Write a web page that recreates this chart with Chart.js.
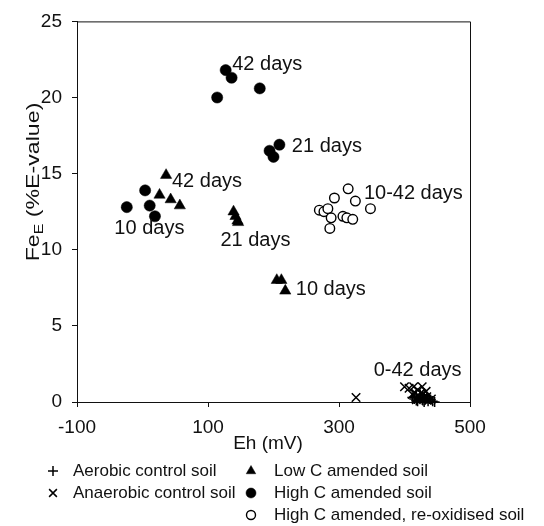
<!DOCTYPE html>
<html>
<head>
<meta charset="utf-8">
<title>FeE vs Eh</title>
<script src="https://cdn.jsdelivr.net/npm/chart.js@4/dist/chart.umd.min.js"></script>
<style>
  html, body { margin: 0; padding: 0; background: #fff; }
  #wrap { width: 544px; height: 526px; }
</style>
</head>
<body>
<div id="wrap"><canvas id="feChart" width="544" height="526"></canvas></div>
<script>
// Eh (mV) and FeE (%E-value) for each soil treatment
const aerobicEh = [412, 415, 418, 420, 422, 424, 425, 427, 428, 430, 432, 434, 436, 438, 440, 443, 446, 418, 430];
const aerobicFe = [0.3, 0.2, 0.4, 0.05, 0.25, 0.5, 0.3, 0.15, 0.1, 0.45, 0.2, 0.35, 0.05, 0.2, 0.15, 0.05, 0.0, 0.1, 0.0];

const anaerobicEh = [326, 400, 407, 414, 420, 427, 433, 412, 422, 430, 418, 437, 425, 416, 428, 434, 441];
const anaerobicFe = [0.3, 1.0, 0.9, 1.0, 0.8, 1.0, 0.7, 0.5, 0.4, 0.3, 0.15, 0.1, 0.6, 0.6, 0.5, 0.35, 0.2];

const lowCEh = [36, 26, 43, 57, 139, 142, 145, 146, 205, 212, 218];
const lowCFe = [14.9, 13.6, 13.3, 12.9, 12.5, 12.2, 11.9, 11.8, 8.0, 8.0, 7.3];

const highCEh = [127, 136, 114, 179, 194, 200, 209, -24, 4, 11, 19];
const highCFe = [21.8, 21.3, 20.0, 20.6, 16.5, 16.1, 16.9, 12.8, 13.9, 12.9, 12.2];

const reoxEh = [314, 293, 325, 348, 270, 277, 283, 288, 306, 312, 321, 286];
const reoxFe = [14.0, 13.4, 13.2, 12.7, 12.6, 12.5, 12.7, 12.1, 12.2, 12.1, 12.0, 11.4];

const xTicks = [-100, 100, 300, 500];
const yTicks = [0, 5, 10, 15, 20, 25];

const legendNames = [
    'Aerobic control soil',
    'Anaerobic control soil',
    'Low C amended soil',
    'High C amended soil',
    'High C amended, re-oxidised soil'
];

// sampling-time labels, anchored by their left edge in data units
const noteText = ['42 days', '21 days', '42 days', '10 days', '21 days', '10 days', '10-42 days', '0-42 days'];
const noteEh = [137, 228, 45, -43, 119, 234, 338, 353];
const noteFe = [22.2, 16.8, 14.5, 11.4, 10.6, 7.4, 13.7, 2.1];

const FONT = '"Liberation Sans", Arial, sans-serif';
const INK = '#111';

function pts(xs, ys) {
    return xs.map((x, i) => ({ x: x, y: ys[i] }));
}

// box around the plot, axis titles, labels and legend
const extras = {
    id: 'extras',
    beforeDatasetsDraw(chart) {
        const ctx = chart.ctx;
        const a = chart.chartArea;
        ctx.save();
        ctx.strokeStyle = INK;
        ctx.lineWidth = 1;
        ctx.beginPath();
        ctx.moveTo(a.left, a.top + 0.5);
        ctx.lineTo(a.right + 0.5, a.top + 0.5);
        ctx.lineTo(a.right + 0.5, a.bottom);
        ctx.stroke();
        ctx.restore();
    },
    afterDraw(chart) {
        const ctx = chart.ctx;
        const xs = chart.scales.x;
        const ys = chart.scales.y;
        ctx.save();
        ctx.fillStyle = INK;
        ctx.textBaseline = 'middle';

        // x axis title
        ctx.font = '19px ' + FONT;
        ctx.textAlign = 'center';
        ctx.fillText('Eh (mV)', 268, 444);

        // y axis title: Fe with subscript E
        ctx.save();
        ctx.translate(34, 182);
        ctx.rotate(-Math.PI / 2);
        ctx.scale(1.22, 1);
        ctx.textAlign = 'left';
        const big = '19px ' + FONT;
        const small = '13px ' + FONT;
        ctx.font = big;
        const w1 = ctx.measureText('Fe').width;
        const w3 = ctx.measureText(' (%E-value)').width;
        ctx.font = small;
        const w2 = ctx.measureText('E').width;
        let x0 = -(w1 + w2 + w3) / 2;
        ctx.font = big;
        ctx.fillText('Fe', x0, 0);
        ctx.font = small;
        ctx.fillText('E', x0 + w1, 5);
        ctx.font = big;
        ctx.fillText(' (%E-value)', x0 + w1 + w2, 0);
        ctx.restore();

        // sampling-time labels
        ctx.font = '20px ' + FONT;
        ctx.textAlign = 'left';
        noteText.forEach((t, i) => {
            ctx.fillText(t, xs.getPixelForValue(noteEh[i]), ys.getPixelForValue(noteFe[i]));
        });

        // legend in two columns
        const slots = [[53, 73, 471], [53, 73, 493], [251, 274, 471], [251, 274, 493], [251, 274, 515]];
        ctx.font = '17px ' + FONT;
        chart.data.datasets.forEach((ds, i) => {
            const s = slots[i];
            ctx.fillStyle = ds.backgroundColor;
            ctx.strokeStyle = ds.borderColor;
            ctx.lineWidth = ds.borderWidth;
            Chart.helpers.drawPoint(ctx, {
                pointStyle: ds.pointStyle,
                radius: ds.legendRadius,
                rotation: 0,
                borderWidth: ds.borderWidth
            }, s[0], s[2]);
            ctx.fillStyle = INK;
            ctx.fillText(ds.label, s[1], s[2]);
        });
        ctx.restore();
    }
};

const ctxFe = document.getElementById('feChart').getContext('2d');
new Chart(ctxFe, {
    type: 'scatter',
    data: {
        datasets: [{
            label: legendNames[0],
            data: pts(aerobicEh, aerobicFe),
            pointStyle: 'cross',
            pointRadius: 5,
            legendRadius: 5,
            backgroundColor: '#000',
            borderColor: '#000',
            borderWidth: 1.5,
            clip: false
        }, {
            label: legendNames[1],
            data: pts(anaerobicEh, anaerobicFe),
            pointStyle: 'crossRot',
            pointRadius: 6,
            legendRadius: 5.5,
            backgroundColor: '#000',
            borderColor: '#000',
            borderWidth: 1.5,
            clip: false
        }, {
            label: legendNames[2],
            data: pts(lowCEh, lowCFe),
            pointStyle: 'triangle',
            pointRadius: 6.5,
            legendRadius: 5.5,
            backgroundColor: '#000',
            borderColor: '#000',
            borderWidth: 0.5,
            clip: false
        }, {
            label: legendNames[3],
            data: pts(highCEh, highCFe),
            pointStyle: 'circle',
            pointRadius: 5.6,
            legendRadius: 5,
            backgroundColor: '#000',
            borderColor: '#000',
            borderWidth: 0.5,
            clip: false
        }, {
            label: legendNames[4],
            data: pts(reoxEh, reoxFe),
            pointStyle: 'circle',
            pointRadius: 4.8,
            legendRadius: 4.5,
            backgroundColor: '#fff',
            borderColor: '#000',
            borderWidth: 1.4,
            clip: false
        }]
    },
    options: {
        responsive: false,
        animation: false,
        layout: { padding: { left: 0, top: 19, right: 74, bottom: 0 } },
        plugins: {
            legend: { display: false },
            tooltip: { enabled: false }
        },
        scales: {
            x: {
                type: 'linear',
                min: xTicks[0],
                max: xTicks[xTicks.length - 1],
                afterBuildTicks: s => { s.ticks = xTicks.map(v => ({ value: v })); },
                afterFit: s => { s.height = 124; },
                ticks: { color: INK, font: { family: FONT, size: 19 }, padding: 9, maxRotation: 0 },
                grid: { drawOnChartArea: false, drawTicks: true, tickLength: 5, color: INK },
                border: { color: INK, width: 1 }
            },
            y: {
                min: yTicks[0],
                max: yTicks[yTicks.length - 1],
                afterBuildTicks: s => { s.ticks = yTicks.map(v => ({ value: v })); },
                afterFit: s => { s.width = 77; },
                ticks: { color: INK, font: { family: FONT, size: 19 }, padding: 10 },
                grid: { drawOnChartArea: false, drawTicks: true, tickLength: 5, color: INK },
                border: { color: INK, width: 1 }
            }
        }
    },
    plugins: [extras]
});
</script>
</body>
</html>
